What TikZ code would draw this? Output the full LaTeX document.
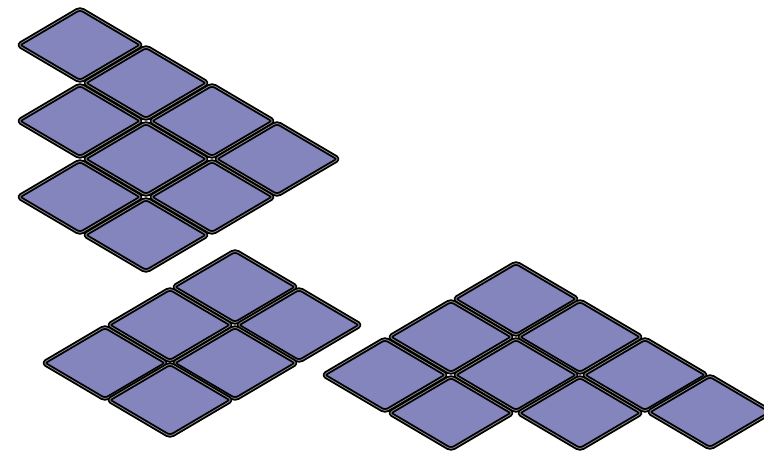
\documentclass[tikz,border=0pt]{standalone}
\usepackage{xcolor}
\definecolor{TilePurple}{RGB}{133,133,189}
\definecolor{TileRim}{RGB}{150,150,150}
\begin{document}
\begin{tikzpicture}[
    x=0.02cm, y=-0.02cm,
    tile/.style={draw=black, fill=TilePurple, line join=round, rounded corners=2pt,
              line width=1.05pt, double=TileRim, double distance=0.4pt}
]
    \useasboundingbox (0,0) rectangle (764,453);
    \clip (0,0) rectangle (764,453);
    % upper group
    \foreach \cx/\cy in {80/45, 146/83, 80/121, 212/121, 146/159, 277/159, 80/197, 212/197, 146/235}
        \draw[tile] (\cx-31,\cy-18.25) -- (\cx,\cy-36.5) -- (\cx+62,\cy) -- (\cx,\cy+36.5) -- (\cx-62,\cy) -- cycle;
    % lower left group
    \foreach \cx/\cy in {235/287, 170/325, 299/325, 105/363, 235/363, 170/400}
        \draw[tile] (\cx-31,\cy-18.25) -- (\cx,\cy-36.5) -- (\cx+62,\cy) -- (\cx,\cy+36.5) -- (\cx-62,\cy) -- cycle;
    % lower right group
    \foreach \cx/\cy in {516/299, 451/337, 580/337, 385/375, 516/375, 645/375, 451/413, 580/413, 710/412}
        \draw[tile] (\cx-31,\cy-18.25) -- (\cx,\cy-36.5) -- (\cx+62,\cy) -- (\cx,\cy+36.5) -- (\cx-62,\cy) -- cycle;
\end{tikzpicture}
\end{document}
